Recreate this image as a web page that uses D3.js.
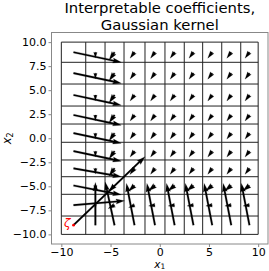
<!DOCTYPE html>
<html>
<head>
<meta charset="utf-8">
<script src="https://cdn.jsdelivr.net/npm/d3@7"></script>
<style>
  body { margin: 0; background: #fff; }
  svg { display: block; font-family: "DejaVu Sans", sans-serif; }
</style>
</head>
<body>
<svg id="chart" width="269" height="271"></svg>
<script>
// cell edges of the grid, data units
const xEdges = [-10, -7.52, -5.56, -3.63, -1.5, 0.53, 2.49, 4.36, 6.3, 8.23, 10];
const yEdges = [10, 7.9, 5.64, 3.35, 1.48, -0.42, -2.26, -4.0, -5.83, -8.09, -10];

// arrow components for each cell (rows top to bottom, columns left to right)
const uRows = [
  [4.85, 0, -0.55, -0.45, -0.45, -0.45, -0.45, -0.45, -0.45, -0.45],
  [4.85, 0, -0.55, -0.45, -0.45, -0.45, -0.45, -0.45, -0.45, -0.45],
  [4.85, 0, -0.55, -0.45, -0.45, -0.45, -0.45, -0.45, -0.45, -0.45],
  [4.85, 0, -0.55, -0.45, -0.45, -0.45, -0.45, -0.45, -0.45, -0.45],
  [4.85, 0, -0.55, -0.45, -0.45, -0.45, -0.45, -0.45, -0.45, -0.45],
  [4.85, 0, -0.55, -0.45, -0.45, -0.45, -0.45, -0.45, -0.45, -0.45],
  [4.85, 0, -0.55, -0.47, -0.45, -0.45, -0.45, -0.45, -0.45, -0.45],
  [4.85, 0, -0.6, -0.6, -0.65, -0.65, -0.65, -0.65, -0.65, -0.65],
  [5.18, 0, -0.65, -0.6, -0.65, -0.65, -0.65, -0.65, -0.65, -0.65],
  [7.26, 0, -0.95, -0.82, -0.82, -0.82, -0.82, -0.82, -0.82, -0.82]
];
const vRows = [
  [-1.05, -0.6, -0.8, -0.62, -0.62, -0.62, -0.62, -0.62, -0.62, -0.62],
  [-1.05, -0.6, -0.8, -0.62, -0.62, -0.62, -0.62, -0.62, -0.62, -0.62],
  [-1.05, -0.6, -0.8, -0.62, -0.62, -0.62, -0.62, -0.62, -0.62, -0.62],
  [-1.05, -0.6, -0.8, -0.62, -0.62, -0.62, -0.62, -0.62, -0.62, -0.62],
  [-1.05, -0.6, -0.8, -0.62, -0.62, -0.62, -0.62, -0.62, -0.62, -0.62],
  [-1.05, -0.6, -0.8, -0.62, -0.62, -0.62, -0.62, -0.62, -0.62, -0.62],
  [-0.87, -0.6, -0.8, -0.65, -0.62, -0.62, -0.62, -0.62, -0.62, -0.62],
  [-0.97, -0.6, -0.65, -0.6, -0.55, -0.55, -0.55, -0.55, -0.55, -0.55],
  [0.45, -0.35, -0.35, -0.25, -0.08, -0.08, -0.08, -0.08, -0.08, -0.08],
  [7.13, 4.45, 4.5, 4.35, 4.35, 4.35, 4.35, 4.35, 4.35, 4.35]
];

const xTicks = [-10, -5, 0, 5, 10];
const yTicks = [-10, -7.5, -5, -2.5, 0, 2.5, 5, 7.5, 10];
const titleLines = ["Interpretable coefficients,", "Gaussian kernel"];

const svg = d3.select("#chart");

const x = d3.scaleLinear().domain([-11, 11]).range([51.5, 268]);
const y = d3.scaleLinear().domain([-11, 11]).range([244, 32.5]);

// grid lines
const grid = svg.append("g");
grid.selectAll(".vline")
  .data(xEdges)
  .join("line")
  .attr("x1", d => x(d)).attr("x2", d => x(d))
  .attr("y1", y(10)).attr("y2", y(-10))
  .attr("stroke", "#222").attr("stroke-width", 1);
grid.selectAll(".hline")
  .data(yEdges)
  .join("line")
  .attr("y1", d => y(d)).attr("y2", d => y(d))
  .attr("x1", x(-10)).attr("x2", x(10))
  .attr("stroke", "#222").attr("stroke-width", 1);

// cells: centre + vector
const cells = [];
for (let r = 0; r < 10; r++) {
  for (let c = 0; c < 10; c++) {
    cells.push({
      cx: (xEdges[c] + xEdges[c + 1]) / 2,
      cy: (yEdges[r] + yEdges[r + 1]) / 2,
      u: uRows[r][c],
      v: vRows[r][c]
    });
  }
}

// matplotlib style quiver arrow (pivot at tail)
const W = 1.7;
function arrow(d) {
  const x0 = x(d.cx), y0 = y(d.cy);
  const dx = x(d.cx + d.u) - x0, dy = y(d.cy + d.v) - y0;
  const len = Math.hypot(dx, dy);
  const L = len / W;
  const minsh = 5;
  let X, Y;
  if (L < minsh) {
    const s = L / minsh;
    X = [0, minsh - 4.5, minsh - 5, minsh, minsh - 5, minsh - 4.5, 0].map(a => a * s);
    Y = [0.5, 0.5, 1.5, 0, -1.5, -0.5, -0.5].map(a => a * s);
  } else {
    X = [0, L - 4.5, L - 5, L, L - 5, L - 4.5, 0];
    Y = [0.5, 0.5, 1.5, 0, -1.5, -0.5, -0.5];
  }
  const co = dx / len, sn = dy / len;
  const pts = X.map((a, i) => [x0 + W * (a * co - Y[i] * sn), y0 + W * (a * sn + Y[i] * co)]);
  return d3.line()(pts) + "Z";
}

svg.append("g")
  .selectAll("path")
  .data(cells)
  .join("path")
  .attr("d", arrow)
  .attr("fill", "#000")
  .attr("stroke", "#000")
  .attr("stroke-width", 0.2)
  .attr("stroke-linejoin", "round");

// zeta point
const zeta = cells[90];
svg.append("circle")
  .attr("cx", x(zeta.cx)).attr("cy", y(zeta.cy))
  .attr("r", 1.4).attr("fill", "red");
svg.append("text")
  .attr("x", x(zeta.cx) - 3).attr("y", y(zeta.cy) + 2)
  .attr("text-anchor", "end")
  .attr("font-size", 12)
  .attr("font-style", "italic")
  .attr("fill", "red")
  .text("ζ");

// axes
const xAxis = svg.append("g")
  .attr("transform", `translate(0,${y(-11)})`)
  .call(d3.axisBottom(x).tickValues(xTicks).tickSize(3).tickPadding(1).tickFormat(d3.format("d")));
const yAxis = svg.append("g")
  .attr("transform", `translate(${x(-11)},0)`)
  .call(d3.axisLeft(y).tickValues(yTicks).tickSize(3).tickPadding(2).tickFormat(d3.format(".1f")));

[xAxis, yAxis].forEach(g => {
  g.select(".domain").remove();
  g.selectAll(".tick line").attr("stroke", "#888");
  g.selectAll(".tick text").attr("font-size", 11).attr("font-family", "DejaVu Sans").attr("fill", "#000");
});

// frame
svg.append("rect")
  .attr("x", x(-11)).attr("y", y(11))
  .attr("width", x(11) - x(-11)).attr("height", y(-11) - y(11))
  .attr("fill", "none").attr("stroke", "#888").attr("stroke-width", 1);

// title
svg.append("text")
  .attr("text-anchor", "middle")
  .attr("font-size", 14.8)
  .selectAll("tspan")
  .data(titleLines)
  .join("tspan")
  .attr("x", (x(-11) + x(11)) / 2)
  .attr("y", (d, i) => 13 + i * 16.5)
  .text(d => d);

// axis labels
const xl = svg.append("text")
  .attr("x", x(0)).attr("y", 268)
  .attr("text-anchor", "middle")
  .attr("font-size", 10.5);
xl.append("tspan").attr("font-style", "italic").text("x");
xl.append("tspan").attr("font-size", 7.5).attr("dy", 1).text("1");

const yl = svg.append("text")
  .attr("transform", `translate(11,${y(0)}) rotate(-90)`)
  .attr("text-anchor", "middle")
  .attr("font-size", 11.5);
yl.append("tspan").attr("font-style", "italic").text("x");
yl.append("tspan").attr("font-size", 8).attr("dy", 2).text("2");
</script>
</body>
</html>
